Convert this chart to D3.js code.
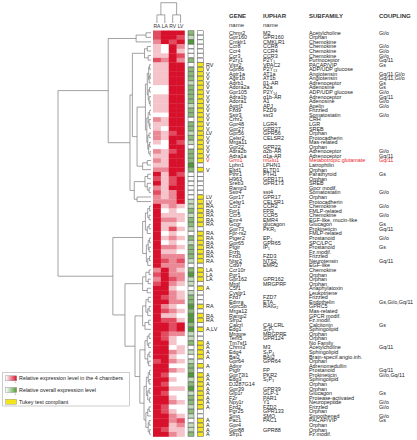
<!DOCTYPE html>
<html><head><meta charset="utf-8">
<script src="https://cdn.jsdelivr.net/npm/d3@7"></script>
<style>body{margin:0;background:#fff}svg{display:block}text{font-family:"Liberation Sans",Arial,Helvetica,sans-serif}</style>
</head><body><svg id="c" width="417" height="440"></svg>
<script>
const chambers = ["RA","LA","RV","LV"];
const genes = ["Chrm2","Gpr160","Cmklr1","Ccr8","Ccr4","Ccr3","P2ry1","Vipr2","Gpr86","Agtr1a",
"Agtr1b","Adrb1","Adora2a","Gpr105","Adra1b","Adora1","Agtrl1","Fzd9","Sstr3","Crhr2",
"Gpr48","Gpr27","Gpr56","Celsr2","Mrga11","Gpr22","Adra2b","Adra1a","Grm1","Lphn1",
"Eltd1","Pthr1","H963","Sreb3","Ramp3","Sstr4","Gpr17","Celsr1","Ccr2","Fpr1",
"Ccr5","Emr4","Gcgr","Gpr73","Fpr-rs2","Ptger2","Gpr65","Ptgir","Frzb","Fzd3",
"Ntsr2","Cd97","Ccr10r","Pgr1","Gpr162","Mrgf","C5r1","Cysltr1","Fzd7","Ednra",
"Gprc5b","Mrga12","Ramp2","Sfrp2","Calcrl","Edg1","Mrgpre","Tem5","Tm7sf1","Chrm3",
"Edg4","Bai2","Gpr64","Admr","Ptgfr","Gpr73l1","Edg3","DJ287G14","Gpr39","Glp1r",
"F2r","Npy1r","Fzd2","Pgr25","Smo","Pac1","Gpr4","Gpr88","Sfrp1"];
const iuphar = ["M2","GPR160","CMKLR1","CCR8","CCR4","CCR3","P2Y\u2081","VPAC2","P2Y\u2081\u2083","AT1a",
"AT1b","\u03b21-AR","A2a","P2Y\u2081\u2084","\u03b11b-AR","A1","APJ","FZD9","sst3","",
"LGR4","GPR27","GPR56","CELSR2","","GPR22","\u03b12b-AR","\u03b11a-AR","mGlu1","LPHN1",
"ELTD1","PTH1","GPR171","GPR173","","sst4","GPR17","CELSR1","CCR2","FPR",
"CCR5","EMR4","glucagon","PKR\u2081","","EP\u2082","GPR65","IP\u2081","","FZD3",
"NTS2","EMR2","","","GPR162","MRGPRF","","","FZD7","ETA",
"RAIG\u2082","","","","CALCRL","S\u2081P\u2081","MRGPRE","GPR124","","M3",
"S\u2081P\u2084","BAI2","GPR64","","FP","PKR2","S\u2081P\u2083","","GPR39","GLP-1",
"PAR1","Y1","FZD2","GPR133","SMO","PAC1","","GPR88",""];
const subfamily = ["Acetylcholine","Orphan","Chemokine","Chemokine","Chemokine","Chemokine","Purinoceptor","PACAP/VIP","ADP/UDP glucose","Angiotensin",
"Angiotensin","Adrenoceptor","Adenosine","ADP/UDP glucose","Adrenoceptor","Adenosine","Apelin","Frizzled","Somatostatin","CRH",
"LGR","SREB","Orphan","Protocadherin","Mas-related","Orphan","Adrenoceptor","Adrenoceptor","Metabotropic glutamate","Latrophilin",
"Orphan","Parathyroid","Orphan","SREB","Gpcr modif.","Somatostatin","Orphan","Protocadherin","Chemokine","FMLP-related",
"Chemokine","EGF-like, mucin-like","Glucagon","Prokineticin","FMLP-related","Prostanoid","SPC/LPC","Prostanoid","Fz.modif.","Frizzled",
"Neurotensin","EGF-like","Chemokine","Orphan","Orphan","Orphan","Anaphylatoxin","Leukotriene","Frizzled","Endothelin",
"GPRC5","Mas-related","GPCR modif.","Fz.modif.","Calcitonin","Sphingolipid","Orphan","Orphan","No Family","Acetylcholine",
"Sphingolipid","Brain-specif.angio.inh.","Orphan","Adrenomedullin","Prostanoid","Prokineticin","Sphingolipid","Orphan","Orphan","Glucagon",
"Protease-activated","Neuropeptide","Frizzled","Orphan","Smoothened","PACAP/VIP","Orphan","Orphan","Fz.modif."];
const coupling = ["Gi/o","","","Gi/o","Gi/o","Gi/o","Gq/11","Gs","","Gq/11,Gi/o",
"Gq/11,Gi/o","Gs","Gs","Gi/o","Gq/11","Gi/o","Gi/o","","Gi/o","",
"","","","","","","Gi/o","Gq/11","Gq/11","",
"","Gs","","","","Gi/o","","","Gi/o","",
"Gi/o","","Gs","Gq/11","","Gi/o","","Gs","","",
"Gq/11","","","","","","","","","Gs,Gi/o,Gq/11",
"","","","","Gs","","","","","Gq/11",
"","","","","Gq/11","Gi/o,Gq/11","","","","Gs",
"","Gi/o","Gi/o","","Gi/o","Gs","","",""];
const annot = ["","","","","","","","RV","V","V",
"V","V","V","V","V","V","V","V","V","V",
"V","V","LV","V","V","V","V","V","V","",
"V","","","","","","LV","LV","RA","RA",
"RA","RA","RA","","RA","RA","RA","RA","RA","RA",
"RA","","LA","LA","LA","","A","","","",
"RA","","RA","RA","","A,LV","","","A","A",
"A","A","","A","","A","A","A","A","A",
"A","A","A","","","A","A","A","A"];
const highlightRow = 29;
// relative expression level (0 = lowest .. 4 = highest) per chamber
const RA = [3,3,2,1,1,1,3,1,1,1, 1,1,0,0,1,1,1,1,0,2, 1,1,2,2,1,0,2,1,2,1, 2,4,3,4,2,3,2,2,4,4,
            4,4,4,4,4,4,4,4,4,4, 4,4,2,3,2,3,4,4,4,4, 4,4,4,4,4,4,4,4,4,4, 4,4,3,4,4,4,4,4,4,4, 4,4,4,4,4,4,4,4,4];
const LA = [4,4,4,0,0,1,2,1,1,1, 1,1,0,0,1,1,1,1,0,1, 1,0,1,1,0,0,1,1,1,1, 2,1,1,1,1,1,1,2,1,0,
            1,2,1,1,0,1,0,2,1,2, 3,2,4,4,4,4,4,4,3,4, 2,3,1,3,4,4,3,3,4,4, 4,4,4,4,4,3,4,3,4,3, 4,4,3,3,4,4,4,3,4];
const RV = [4,4,3,4,4,4,4,4,4,4, 4,4,4,4,4,4,4,4,4,4, 4,4,3,4,4,4,3,4,4,4, 4,4,3,3,4,2,2,2,2,1,
            1,2,1,3,1,2,1,2,1,2, 2,2,2,2,3,2,1,2,2,2, 1,2,1,3,3,3,2,1,1,0, 2,1,2,0,2,0,1,0,1,0, 1,2,0,1,2,2,1,1,2];
const LV = [4,3,4,2,1,3,2,4,4,4, 4,4,4,4,4,4,4,4,4,4, 4,4,4,4,3,4,4,4,4,4, 4,3,4,4,4,4,4,4,1,0,
            1,1,0,1,0,1,0,1,0,2, 3,2,1,2,2,1,0,1,1,2, 0,1,0,1,4,4,2,0,0,1, 1,0,1,0,1,0,0,0,1,0, 0,1,0,0,1,3,2,1,1];
// relative overall expression level (0..3)
const overall = [2,1,3,0,0,0,2,0,2,2, 2,1,2,2,2,2,1,2,2,0, 2,2,1,2,1,0,2,2,2,3, 2,0,0,0,0,0,0,1,1,2,
                 1,2,2,1,0,2,1,2,2,2, 1,0,2,3,1,1,0,1,2,2, 3,2,3,3,2,3,1,1,2,0, 1,0,1,2,2,3,1,2,3,1, 2,2,1,2,1,0,1,1,2];
// row dendrogram: [height, left, right]; leaves are row numbers
const rowTree = [1.0,
  [0.46,
    [0.16, [0.054, 1, 2], 3],
    [0.226,
      [0.2,
        [0.07, [0.04, 4, 5], [0.03, 6, 7]],
        [0.15,
          [0.06,
            [0.04, [0.025, [0.015, 8, 9], [0.02, [0.01, 10, 11], 12]], [0.03, [0.015, 13, 14], [0.02, 15, [0.01, 16, 17]]]],
            [0.045, [0.03, [0.015, 18, 19], [0.02, 20, [0.012, 21, 22]]], [0.035, [0.02, 23, 24], [0.025, [0.015, 25, 26], [0.01, 27, 28]]]]],
          [0.09, [0.04, 29, 30], 31]]],
      [0.18, [0.065, [0.035, 32, 33], [0.04, 34, [0.02, 35, 36]]], [0.15, 37, 38]]]],
  [0.41,
    [0.09, [0.06, [0.035, [0.015, 39, 40], [0.02, 41, 42]], [0.04, [0.02, 43, 44], 45]],
           [0.05, [0.03, [0.015, 46, 47], [0.02, 48, 49]], [0.035, [0.015, 50, 51], 52]]],
    [0.28,
      [0.09, [0.055, [0.02, 53, 54], [0.03, 55, 56]], [0.04, 57, 58]],
      [0.172,
        [0.09, [0.055, [0.03, 59, 60], [0.035, [0.02, 61, 62], 63]], [0.065, [0.025, 64, 65], 66]],
        [0.12,
          [0.065, [0.04, [0.02, 67, 68], [0.025, 69, 70]], [0.035, [0.02, 71, 72], [0.025, 73, 74]]],
          [0.075, [0.05, [0.03, [0.015, 75, 76], [0.02, 77, 78]], [0.035, [0.02, 79, 80], [0.015, 81, 82]]],
                  [0.055, [0.035, [0.02, 83, 84], 85], [0.03, [0.02, 86, 87], [0.015, 88, 89]]]]]]]]];
const colTree = [1.0, [0.4, "RA", "LA"], [0.4, "RV", "LV"]];
const headers = [["GENE","name"],["IUPHAR","name"],["SUBFAMILY",""],["COUPLING",""]];
const legendItems = ["Relative expression level in the 4 chambers","Relative overall expression level","Tukey test compliant"];

const values = {RA, LA, RV, LV};
const svg = d3.select("#c");
const rows = d3.range(1, genes.length + 1);
const y = d3.scaleBand().domain(rows).range([30.5, 436.5]);
const x = d3.scaleBand().domain(chambers).range([153, 184.5]);
const side = d3.scaleBand().domain(["overall","tukey"]).range([188, 203.5]).paddingInner(0.368);
const textX = d3.scaleOrdinal().domain(["annot","gene","iuphar","subfamily","coupling"]).range([206, 229, 263, 309, 379]);
const heatColor = d3.scaleLinear().domain([0, 4]).range(["#ffffff", "#d7102c"]);
const greenColor = d3.scaleLinear().domain([0, 3]).range(["#ffffff", "#4f9b35"]);
const treeX = d3.scaleLinear().domain([0, 1]).range([151, 58]);
const treeY = d3.scaleLinear().domain([0, 1]).range([23, 2.7]);
const bw = y.bandwidth();
const cy = r => y(r) + bw / 2;
const FONT = 5.4;
const ink = r => r === highlightRow ? "#e8262a" : "#222";

// heatmap
const heat = svg.append("g");
chambers.forEach(c => {
  heat.selectAll(null).data(rows).join("rect")
    .attr("x", x(c)).attr("y", r => y(r))
    .attr("width", x.bandwidth() + 0.3).attr("height", bw + 0.3)
    .attr("fill", r => heatColor(values[c][r - 1]));
});
// chamber labels
svg.append("g").selectAll("text").data(chambers).join("text")
  .attr("x", c => x(c) + x.bandwidth() / 2).attr("y", 28.3)
  .attr("text-anchor", "middle").attr("font-size", 5).attr("fill", "#333").text(c => c);

// overall & tukey boxes
svg.append("g").selectAll("rect").data(rows).join("rect")
  .attr("x", side("overall")).attr("y", r => y(r) + 0.25)
  .attr("width", side.bandwidth()).attr("height", bw - 0.5)
  .attr("fill", r => greenColor(overall[r - 1])).attr("stroke", "#555").attr("stroke-width", 0.5);
svg.append("g").selectAll("rect").data(rows).join("rect")
  .attr("x", side("tukey")).attr("y", r => y(r) + 0.25)
  .attr("width", side.bandwidth()).attr("height", bw - 0.5)
  .attr("fill", r => annot[r - 1] ? "#f4e41c" : "#ffffff").attr("stroke", "#555").attr("stroke-width", 0.5);

// row texts
const cols = [["annot", annot], ["gene", genes], ["iuphar", iuphar], ["subfamily", subfamily], ["coupling", coupling]];
cols.forEach(([key, arr]) => {
  svg.append("g").selectAll("text").data(rows.filter(r => arr[r - 1])).join("text")
    .attr("x", textX(key)).attr("y", r => cy(r)).attr("dy", "0.36em")
    .attr("font-size", FONT).attr("fill", ink).text(r => arr[r - 1]);
});
// headers
const hdrKeys = ["gene","iuphar","subfamily","coupling"];
headers.forEach((h, i) => {
  svg.append("text").attr("x", textX(hdrKeys[i])).attr("y", 18.2).attr("font-size", 6)
    .attr("font-weight", "bold").attr("fill", "#333").text(h[0]);
  if (h[1]) svg.append("text").attr("x", textX(hdrKeys[i])).attr("y", 26.6).attr("font-size", 6)
    .attr("fill", "#333").text(h[1]);
});

// dendrograms
const kids = d => Array.isArray(d) ? d.slice(1) : null;
function drawTree(tree, leafPos, hScale, horizontal) {
  const root = d3.hierarchy(tree, kids);
  root.eachAfter(n => {
    if (!n.children) { n.h = 0; n.p = leafPos(n.data); }
    else { n.h = n.data[0]; n.p = (n.children[0].p + n.children[n.children.length - 1].p) / 2; }
  });
  const p = d3.path();
  root.each(n => {
    if (!n.children) return;
    const a = n.children[0].p, b = n.children[n.children.length - 1].p, hv = hScale(n.h);
    if (horizontal) { p.moveTo(hv, a); p.lineTo(hv, b); }
    else { p.moveTo(a, hv); p.lineTo(b, hv); }
    n.children.forEach(c => {
      if (horizontal) { p.moveTo(hv, c.p); p.lineTo(hScale(c.h), c.p); }
      else { p.moveTo(c.p, hv); p.lineTo(c.p, hScale(c.h)); }
    });
  });
  svg.append("path").attr("d", p.toString()).attr("fill", "none")
    .attr("stroke", "#7a7a7a").attr("stroke-width", 0.7);
}
drawTree(rowTree, r => cy(r), treeX, true);
drawTree(colTree, c => x(c) + x.bandwidth() / 2, treeY, false);

// legend
const lg = svg.append("g");
lg.append("rect").attr("x", 2.7).attr("y", 372.3).attr("width", 126.6).attr("height", 33.7)
  .attr("fill", "#fff").attr("stroke", "#aaa").attr("stroke-width", 0.6);
const defs = svg.append("defs");
[["gr", heatColor(0), heatColor(4)], ["gg", greenColor(0), greenColor(3)]].forEach(([id, a, b]) => {
  const g = defs.append("linearGradient").attr("id", id);
  g.append("stop").attr("offset", "0%").attr("stop-color", a);
  g.append("stop").attr("offset", "100%").attr("stop-color", b);
});
const legY = d3.scalePoint().domain(legendItems).range([378.4, 401.8]);
const fills = ["url(#gr)", "url(#gg)", "#f4e41c"];
legendItems.forEach((t, i) => {
  lg.append("rect").attr("x", 5.7).attr("y", legY(t) - 2.6).attr("width", 11).attr("height", 5)
    .attr("fill", fills[i]).attr("stroke", "#888").attr("stroke-width", 0.4);
  lg.append("text").attr("x", 19).attr("y", legY(t)).attr("dy", "0.36em")
    .attr("font-size", 5.4).attr("fill", "#222").text(t);
  if (i < 2) {
    lg.append("text").attr("x", 6.5).attr("y", legY(t) + 5).attr("font-size", 3).attr("fill", "#555").text("-");
    lg.append("text").attr("x", 14.5).attr("y", legY(t) + 5).attr("font-size", 3).attr("fill", "#555").text("+");
  }
});
</script></body></html>
